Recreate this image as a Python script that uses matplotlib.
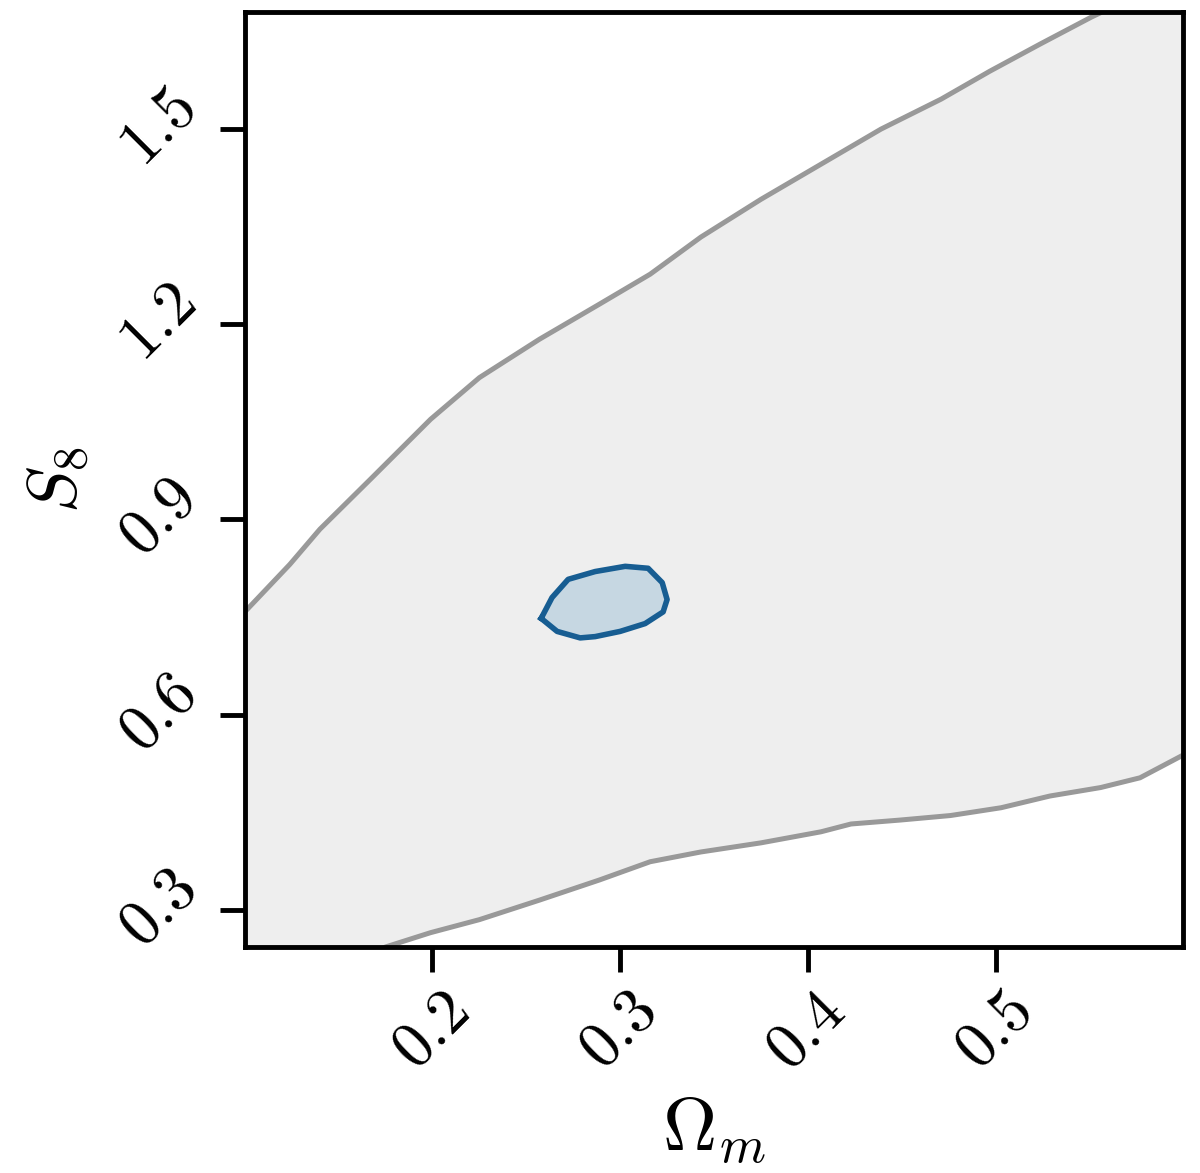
import numpy as np
import matplotlib
matplotlib.use("Agg")
import matplotlib.pyplot as plt

plt.rcParams['mathtext.fontset'] = 'cm'
plt.rcParams['font.family'] = 'serif'
plt.rcParams['font.serif'] = ['cmr10', 'DejaVu Serif']
plt.rcParams['axes.formatter.use_mathtext'] = True

# broad (gray) contour: upper and lower edges
upper_om = [0.08, 0.100, 0.124, 0.140, 0.167, 0.199, 0.225, 0.257, 0.289, 0.316, 0.343,
            0.375, 0.407, 0.439, 0.471, 0.497, 0.524, 0.551, 0.575, 0.61]
upper_s8 = [0.72, 0.758, 0.831, 0.885, 0.962, 1.054, 1.118, 1.177, 1.231, 1.277, 1.334,
            1.392, 1.446, 1.500, 1.546, 1.589, 1.631, 1.672, 1.705, 1.76]
lower_om = [0.08, 0.120, 0.150, 0.175, 0.199, 0.225, 0.257, 0.289, 0.316, 0.343, 0.375,
            0.407, 0.423, 0.449, 0.476, 0.503, 0.529, 0.556, 0.577, 0.600, 0.61]
lower_s8 = [0.12, 0.16, 0.20, 0.243, 0.265, 0.285, 0.315, 0.346, 0.374, 0.389, 0.403,
            0.420, 0.432, 0.438, 0.445, 0.457, 0.475, 0.488, 0.503, 0.538, 0.55]

# tight (blue) contour
blue_om = [0.2579, 0.2637, 0.2723, 0.2867, 0.3027, 0.3149, 0.3224, 0.3250, 0.3229,
           0.3133, 0.3000, 0.2867, 0.2787, 0.2664, 0.2579]
blue_s8 = [0.748, 0.780, 0.808, 0.820, 0.828, 0.825, 0.803, 0.777, 0.758,
           0.740, 0.728, 0.720, 0.718, 0.728, 0.748]

xticks = [0.2, 0.3, 0.4, 0.5]
yticks = [0.3, 0.6, 0.9, 1.2, 1.5]

fig = plt.figure(figsize=(12, 11.73), dpi=100)
ax = fig.add_axes([0.204, 0.1927, 0.782, 0.7971])

# gray region polygon
poly_x = upper_om + lower_om[::-1]
poly_y = upper_s8 + lower_s8[::-1]
ax.fill(poly_x, poly_y, color='#eeeeee', lw=0, zorder=1)
ax.plot(upper_om, upper_s8, color='#999999', lw=3.6, zorder=2)
ax.plot(lower_om, lower_s8, color='#999999', lw=3.6, zorder=2)

ax.fill(blue_om, blue_s8, color='#c6d7e2', lw=0, zorder=3)
ax.plot(blue_om, blue_s8, color='#175d92', lw=4, zorder=4, solid_joinstyle='round')

ax.set_xlim(0.1, 0.6)
ax.set_ylim(0.243, 1.68)
ax.set_xticks(xticks)
ax.set_yticks(yticks)
ax.set_xticklabels(['$%.1f$' % t for t in xticks], rotation=45, fontsize=46)
ax.set_yticklabels(['$%.1f$' % t for t in yticks], rotation=45, fontsize=46, va='center')
ax.tick_params(direction='out', length=18, width=3.5, pad=8)
for s in ax.spines.values():
    s.set_linewidth(3.5)

ax.set_xlabel(r'$\Omega_m$', fontsize=54, labelpad=10)
ax.set_ylabel(r'$S_8$', fontsize=50, labelpad=14)

fig.savefig('out.png', dpi=100)
